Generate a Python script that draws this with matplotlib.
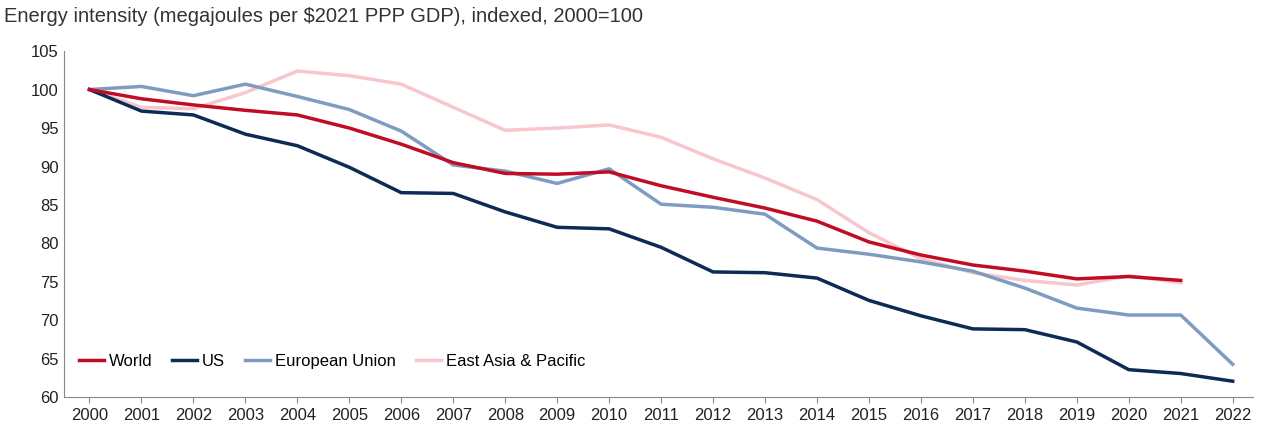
import matplotlib
matplotlib.use('Agg')
import matplotlib.pyplot as plt

plt.rcParams['font.family'] = ['Liberation Sans', 'DejaVu Sans']

years = list(range(2000, 2023))
world = [100, 98.8, 98, 97.3, 96.7, 95, 92.9, 90.5, 89.1, 89, 89.3, 87.5, 86, 84.6, 82.9, 80.2, 78.5, 77.2, 76.4, 75.4, 75.7, 75.2]
us = [100, 97.2, 96.7, 94.2, 92.7, 89.9, 86.6, 86.5, 84.1, 82.1, 81.9, 79.5, 76.3, 76.2, 75.5, 72.6, 70.6, 68.9, 68.8, 67.2, 63.6, 63.1, 62.1]
eu = [100, 100.4, 99.2, 100.7, 99.1, 97.4, 94.6, 90.2, 89.4, 87.8, 89.7, 85.1, 84.7, 83.8, 79.4, 78.6, 77.6, 76.4, 74.2, 71.6, 70.7, 70.7, 64.3]
eap = [100, 97.7, 97.5, 99.6, 102.4, 101.8, 100.7, 97.7, 94.7, 95, 95.4, 93.8, 91, 88.5, 85.7, 81.4, 78, 76.2, 75.2, 74.6, 75.8, 74.9]

fig = plt.figure(figsize=(12.7, 4.44), dpi=100)
ax = fig.add_axes([0.05, 0.105, 0.937, 0.78])

ax.plot(years[:len(eap)], eap, color='#f8c6cd', lw=2.5, label='East Asia & Pacific', zorder=1)
ax.plot(years, eu, color='#7f9cc0', lw=2.5, label='European Union', zorder=2)
ax.plot(years, us, color='#0d2b55', lw=2.5, label='US', zorder=3)
ax.plot(years[:len(world)], world, color='#c00d25', lw=2.5, label='World', zorder=4)

ax.set_xlim(2000 - 0.5, 2022 + 0.4)
ax.set_ylim(60, 105)
ax.set_yticks(range(60, 106, 5))
ax.set_xticks(years)
ax.tick_params(labelsize=12, length=0, colors='#222222')
ax.tick_params(axis='x', length=4, direction='out', color='#888888')
for s in ['top', 'right']:
    ax.spines[s].set_visible(False)
for s in ['left', 'bottom']:
    ax.spines[s].set_color('#888888')

h, l = ax.get_legend_handles_labels()
order = [3, 2, 1, 0]
ax.legend([h[i] for i in order], [l[i] for i in order], loc='lower left', ncol=4,
          frameon=False, fontsize=12, handlelength=1.5, handletextpad=0.3,
          columnspacing=1.2, bbox_to_anchor=(0.0, 0.04))

fig.text(0.003, 0.95, 'Energy intensity (megajoules per $2021 PPP GDP), indexed, 2000=100',
         fontsize=14.5, color='#333333')

fig.savefig('out.png', dpi=100)
